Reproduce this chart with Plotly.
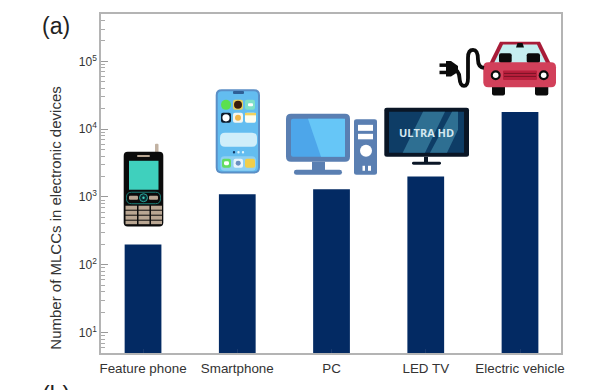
import plotly.graph_objects as go

categories = ["Feature phone", "Smartphone", "PC", "LED TV", "Electric vehicle"]
mlcc_counts = [200, 1100, 1300, 2000, 18000]
y_tick_values = [10, 100, 1000, 10000, 100000]
y_tick_labels = ["10<sup>1</sup>", "10<sup>2</sup>", "10<sup>3</sup>", "10<sup>4</sup>", "10<sup>5</sup>"]
y_title = "Number of MLCCs in electronic devices"

W, H = 615, 390
L, R, T, B = 101, 561, 14, 353.5
NAVY = "#032a63"
GRAY = "#b4b4b4"
TXT = "#333333"


def px(x):
    return (x - L) / (R - L)


def py(y):
    return (B - y) / (B - T)


shapes = []


def path(points, fill=None, line=None, width=0, close=True):
    d = ""
    for i, (x, y) in enumerate(points):
        d += f"{'M' if i == 0 else 'L'}{px(x):.5f},{py(y):.5f} "
    if close:
        d += "Z"
    shapes.append(dict(type="path", xref="paper", yref="paper", path=d,
                       fillcolor=fill if fill else "rgba(0,0,0,0)",
                       line=dict(color=line if line else "rgba(0,0,0,0)", width=width), layer="above"))


def rect(x0, y0, x1, y1, fill, r=0, line=None, width=0):
    if r == 0:
        path([(x0, y0), (x1, y0), (x1, y1), (x0, y1)], fill, line, width)
        return
    a, b = px, py
    d = (f"M{a(x0+r):.5f},{b(y0):.5f} L{a(x1-r):.5f},{b(y0):.5f} Q{a(x1):.5f},{b(y0):.5f} {a(x1):.5f},{b(y0+r):.5f} "
         f"L{a(x1):.5f},{b(y1-r):.5f} Q{a(x1):.5f},{b(y1):.5f} {a(x1-r):.5f},{b(y1):.5f} "
         f"L{a(x0+r):.5f},{b(y1):.5f} Q{a(x0):.5f},{b(y1):.5f} {a(x0):.5f},{b(y1-r):.5f} "
         f"L{a(x0):.5f},{b(y0+r):.5f} Q{a(x0):.5f},{b(y0):.5f} {a(x0+r):.5f},{b(y0):.5f} Z")
    shapes.append(dict(type="path", xref="paper", yref="paper", path=d, fillcolor=fill,
                       line=dict(color=line if line else "rgba(0,0,0,0)", width=width), layer="above"))


def circ(cx, cy, r, fill, line=None, width=0):
    shapes.append(dict(type="circle", xref="paper", yref="paper", x0=px(cx - r), x1=px(cx + r),
                       y0=py(cy + r), y1=py(cy - r), fillcolor=fill,
                       line=dict(color=line if line else "rgba(0,0,0,0)", width=width), layer="above"))


# ---- feature phone icon
rect(155, 144, 158.5, 153, "#c2b2a2", 1)
rect(123.7, 152, 163.3, 226.7, "#0b0b0b", 4)
rect(137, 155.3, 150, 157.2, "#b9a692", 1)
rect(129, 161, 158.5, 190, "#3fd0bd")
rect(126.5, 192.5, 160.5, 204, "#0b0b0b", 5, "#1c7f78", 1)
rect(129, 196, 138, 200, "#b9a692", 1)
rect(149, 196, 158, 200, "#b9a692", 1)
circ(143.5, 198, 4, "#0b2f33", "#2aa79b", 1)
circ(143.5, 198, 1.2, "#3fd0bd")
for kx0, kx1 in [(125.5, 137), (138.5, 149.5), (151, 162)]:
    for ky0, ky1 in [(206, 210), (211, 215), (216, 220), (221, 224.5)]:
        rect(kx0, ky0, kx1, ky1, "#b9a692")

# ---- smartphone icon
rect(216.7, 90.3, 259, 172.7, "#63bdf0", 5, "#5b8fc6", 2)
rect(233, 91, 244, 94, "#2f5f96", 1)
circ(226, 105, 5, "#5be04f")
rect(233, 100, 243, 110, "#e6cf5e", 2)
circ(238, 105, 4, "#3a1c0c")
rect(245, 100, 255, 110, "#7fe0c8", 2)
rect(248, 103.5, 253, 106.5, "#ffffff", 1)
rect(221, 113, 231, 123, "#0d1a2a", 2)
circ(226, 118, 3.6, "#ffffff")
rect(233, 113, 243, 123, "#f4f6f0", 2)
circ(238, 118, 3, "#f0b64a")
rect(245, 113, 256, 123, "#fdfdf0", 2)
rect(245, 113, 256, 115.5, "#f2d25e")
rect(220, 133, 257, 147, "#cfeefa", 5)
circ(234, 152.5, 1.2, "#123a66")
circ(238.5, 152.5, 1.2, "#dff4fb")
circ(243, 152.5, 1.2, "#dff4fb")
rect(220.5, 156.5, 256, 171, "#8fd0f2", 4)
rect(222, 159, 231, 168, "#63dd62", 2)
rect(224, 161.5, 229, 165.5, "#ffffff", 1.5)
rect(233.5, 159, 243, 168, "#e8f4fb", 2)
circ(238.2, 163.5, 2.5, "#6a8fc0")
rect(245, 159, 255, 168, "#f1ce4a", 2)

# ---- PC icon
rect(286, 114, 350, 162, "#5a7fb2", 5)
rect(291, 119, 345, 157, "#4da6ea", 2)
path([(308, 119), (345, 119), (345, 157), (321, 157)], "#66c6f7")
rect(312, 162, 325, 171, "#5a7fb2")
rect(294, 170, 342, 175, "#5a7fb2", 2.5)
rect(354, 119.5, 377, 175, "#5a7fb2", 2.5)
rect(358, 125, 373, 131, "#ffffff")
rect(358, 134, 373, 139.5, "#ffffff")
circ(366, 151, 6, "#ffffff")
rect(362.5, 166, 365, 171, "#ffffff")
rect(368, 166, 371, 171, "#ffffff")

# ---- TV icon
rect(384.3, 108, 469, 157, "#0a1626", 2.5)
rect(389, 112, 464, 153, "#0e3d66")
path([(402.7, 153), (425, 153), (445, 112), (423, 112)], "#2e6f92")
path([(430, 153), (447, 153), (458, 130), (458, 112), (452, 112)], "#2e6f92")
rect(424, 157, 428, 163, "#0a1626")
rect(412, 162, 441, 165, "#0a1626", 1.5)

# ---- electric car icon
rect(492, 85, 505, 95.7, "#0b0b0b", 2)
rect(535, 85, 548.3, 95.7, "#0b0b0b", 2)
path([(500, 41.7), (540, 41.7), (551, 64), (489, 64)], "#a81c38")
path([(503, 44.5), (537, 44.5), (546, 63), (494, 63)], "#c5eef0")
rect(499, 53.3, 511.7, 63, "#0b0b0b", 2)
rect(526.7, 53.3, 540, 63, "#0b0b0b", 2)
path([(517.5, 43), (522.5, 43), (524, 47.6), (516, 47.6)], "#0b0b0b")
rect(483.3, 62.3, 556, 87.3, "#d2405a", 5)
rect(503, 70.7, 537, 80, "#b81f3c", 1)
for gy in (73.5, 76.5):
    rect(504, gy - 0.5, 536, gy + 0.5, "#7a1226")
for hx in (495.7, 543.7):
    circ(hx, 75.3, 5, "#0b0b0b")
    circ(hx, 75.3, 2.8, "#ffffff")
# plug and cord
cord = [(484, 68), (478, 67), (478, 60), (478, 50), (473, 50), (468, 50), (468, 58), (468, 68), (468, 78),
        (468, 86), (464, 86), (460, 86), (459.5, 78), (459, 70), (453, 69)]
d = f"M{px(cord[0][0]):.5f},{py(cord[0][1]):.5f} "
for i in range(1, len(cord) - 1, 2):
    d += f"Q{px(cord[i][0]):.5f},{py(cord[i][1]):.5f} {px(cord[i+1][0]):.5f},{py(cord[i+1][1]):.5f} "
shapes.append(dict(type="path", xref="paper", yref="paper", path=d,
                   line=dict(color="#0b0b0b", width=3.8), layer="above"))
path([(446, 61), (451, 61), (458, 66), (458, 72), (451, 76.5), (446, 76.5)], "#0b0b0b")
rect(439.5, 63.5, 447, 67, "#0b0b0b")
rect(439.5, 70.8, 447, 74.3, "#0b0b0b")

fig = go.Figure(go.Bar(x=categories, y=mlcc_counts, width=0.39, marker=dict(color=NAVY, line=dict(width=0))))

fig.update_layout(
    width=W, height=H, margin=dict(l=L, r=W - R, t=T, b=H - B, pad=0),
    paper_bgcolor="white", plot_bgcolor="white", showlegend=False,
    font=dict(family="Liberation Sans", color=TXT, size=12),
    shapes=shapes,
    xaxis=dict(type="category", range=[-0.446, 4.435], showline=True, linecolor=GRAY, linewidth=1.5, mirror=True,
               ticks="inside", ticklen=4, tickcolor="#1a3a6e", tickwidth=1, ticklabelstandoff=2,
               tickfont=dict(size=13.4, color=TXT), showgrid=False, zeroline=False),
    yaxis=dict(type="log", range=[0.699, 5.699], tickmode="array", tickvals=y_tick_values, ticktext=y_tick_labels,
               showline=True, linecolor=GRAY,
               linewidth=1.5, mirror=True, ticks="inside", ticklen=7, tickcolor="#999999", tickwidth=1,
               ticklabelstandoff=0, tickfont=dict(size=12, color=TXT), showgrid=False, zeroline=False,
               minor=dict(ticks="inside", ticklen=4, tickcolor="#aaaaaa", tickwidth=1, dtick="D1", showgrid=False)),
    annotations=[
        dict(text=y_title, xref="paper", yref="paper", x=px(56), y=py(219), showarrow=False, textangle=-90,
             xanchor="center", yanchor="middle", font=dict(size=15, color=TXT)),
        dict(text="(a)", xref="paper", yref="paper", x=px(56), y=py(26), showarrow=False,
             xanchor="center", yanchor="middle", font=dict(size=23, color="#222222")),
        dict(text="(b)", xref="paper", yref="paper", x=px(56), y=py(396), showarrow=False,
             xanchor="center", yanchor="middle", font=dict(size=23, color="#222222")),
        dict(text="<b>ULTRA HD</b>", xref="paper", yref="paper", x=px(426.5), y=py(132.5), showarrow=False,
             xanchor="center", yanchor="middle", font=dict(size=11, color="#d5e8f0", family="Open Sans")),
    ],
)

fig.write_html("out.html", config=dict(displayModeBar=False), post_script="document.body.style.margin='0';")
